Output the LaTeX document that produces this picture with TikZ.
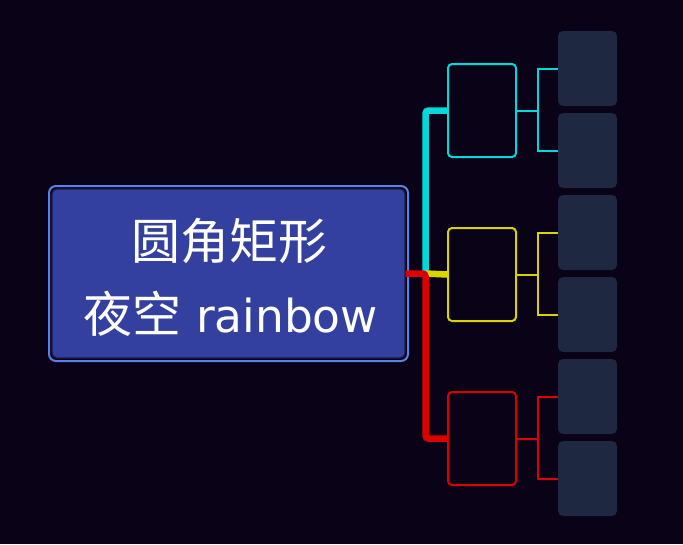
\documentclass[tikz,border=0pt]{standalone}
\usepackage{fontspec}
\newfontfamily\cjk{Noto Sans CJK SC}
\newfontfamily\dvs{DejaVu Sans}
\definecolor{bgc}{HTML}{0A0216}
\definecolor{rootfill}{HTML}{3340A0}
\definecolor{rootline}{HTML}{5A82E6}
\definecolor{rootdark}{HTML}{1A1C4A}
\definecolor{cyanc}{HTML}{00D9DC}
\definecolor{yellowc}{HTML}{D9D400}
\definecolor{redc}{HTML}{DD0000}
\definecolor{leafc}{HTML}{1E2840}
\tikzset{
  branchbox/.style={draw, line width=2pt, rounded corners=4pt, minimum width=68pt, minimum height=93pt, inner sep=0pt, fill=bgc},
  leafbox/.style={fill=leafc, rounded corners=5pt, minimum width=59pt, minimum height=75pt, inner sep=0pt},
  mainline/.style={line width=6.5pt, rounded corners=3pt},
  subline/.style={line width=2pt},
  label/.style={text=white, inner sep=0pt, anchor=base}
}
\begin{document}
\begin{tikzpicture}[x=1pt,y=-1pt]
\fill[bgc] (0,0) rectangle (683,544);
\useasboundingbox (0,0) rectangle (683,544);
% root
\node[draw=rootline, line width=2pt, rounded corners=7pt, minimum width=359pt, minimum height=175pt, inner sep=0pt] (rootout) at (228.5,273.5) {};
\node[fill=rootfill, draw=rootdark, line width=1.2pt, rounded corners=5pt, minimum width=353pt, minimum height=169pt, inner sep=0pt] (rootin) at (228.5,273.5) {};
\node[label] (t1) at (229.5,259.5) {\fontsize{49pt}{55pt}\selectfont\cjk 圆角矩形};
\node[label] (t2) at (230.5,332) {\fontsize{49pt}{55pt}\selectfont\cjk 夜空\hspace{15pt}{\fontsize{45.5pt}{50pt}\selectfont\dvs rainbow}};
% branches
\node[branchbox, draw=cyanc] (b1) at (482,110.5) {};
\node[branchbox, draw=yellowc] (b2) at (482,274.5) {};
\node[branchbox, draw=redc] (b3) at (482,438.5) {};
% leaves
\node[leafbox] (l1) at (587.5,68.5) {};
\node[leafbox] (l2) at (587.5,150.5) {};
\node[leafbox] (l3) at (587.5,232.5) {};
\node[leafbox] (l4) at (587.5,314.5) {};
\node[leafbox] (l5) at (587.5,396.5) {};
\node[leafbox] (l6) at (587.5,478.5) {};
% main connectors
\coordinate (j) at (425.5,273.5);
\draw[mainline, cyanc] (j) |- (b1.west);
\draw[mainline, yellowc] (j) -- (b2.west);
\draw[mainline, redc] (rootin.east) -- (j) |- (b3.west);
% sub connectors
\draw[subline, cyanc] (b1.east) -- ++(21,0) coordinate (k1);
\draw[subline, cyanc] (l1.west) -| (k1) |- (l2.west);
\draw[subline, yellowc] (b2.east) -- ++(21,0) coordinate (k2);
\draw[subline, yellowc] (l3.west) -| (k2) |- (l4.west);
\draw[subline, redc] (b3.east) -- ++(21,0) coordinate (k3);
\draw[subline, redc] (l5.west) -| (k3) |- (l6.west);
\end{tikzpicture}
\end{document}
